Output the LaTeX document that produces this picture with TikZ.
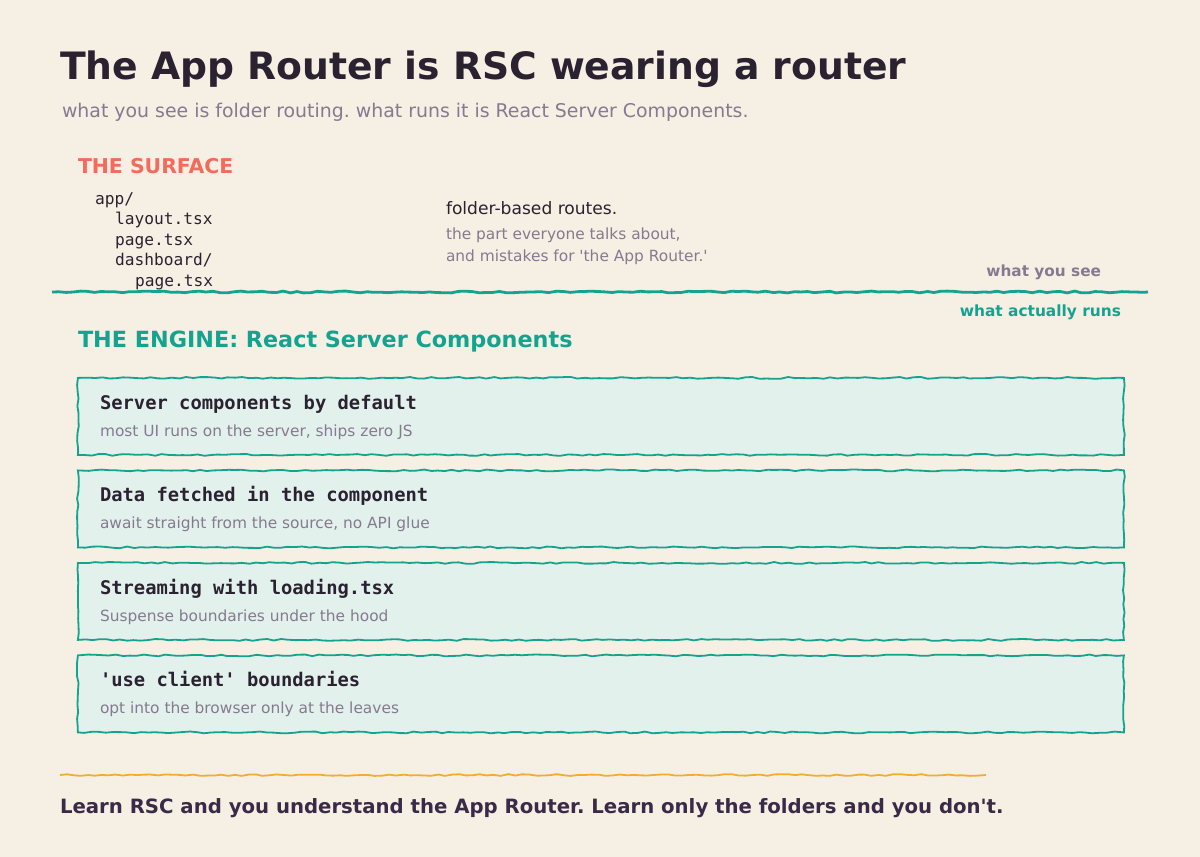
\documentclass[tikz,border=0pt]{standalone}
\usepackage{fontspec}
\setmainfont{DejaVu Sans}[Ligatures=TeXOff]
\setmonofont{DejaVu Sans Mono}
\usetikzlibrary{decorations.pathmorphing}
\definecolor{bg}{HTML}{F6EFE4}
\definecolor{ink}{HTML}{2A2230}
\definecolor{muted}{HTML}{857A8F}
\definecolor{coral}{HTML}{F26B5B}
\definecolor{teal}{HTML}{14A38E}
\definecolor{cardfill}{HTML}{E3F1EC}
\definecolor{amber}{HTML}{F5AC2E}
\definecolor{plum}{HTML}{3A2A48}
\frenchspacing
\tikzset{
  txt/.style={anchor=base west, inner sep=0pt, outer sep=0pt},
  rtxt/.style={anchor=base east, inner sep=0pt, outer sep=0pt},
  rough/.style={decorate, decoration={random steps, segment length=7pt, amplitude=0.9pt}},
  card/.style={draw=teal, line width=1.8pt, fill=cardfill, rough, minimum width=1046pt, minimum height=77pt, anchor=north west, inner sep=0pt},
  cardtitle/.style={txt, font=\ttfamily\bfseries\fontsize{18.8}{22}\selectfont, text=ink},
  cardsub/.style={txt, font=\fontsize{15.4}{18}\selectfont, text=muted},
  code/.style={txt, font=\ttfamily\fontsize{16.2}{19}\selectfont, text=ink},
}
\begin{document}
\begin{tikzpicture}[x=1pt,y=-1pt]
\pgfmathsetseed{7}
\fill[bg] (0,0) rectangle (1200,857);
\useasboundingbox (0,0) rectangle (1200,857);

\node[txt, font=\bfseries\fontsize{37.7}{44}\selectfont, text=ink] (title) at (60,79) {The App Router is RSC wearing a router};
\node[txt, font=\fontsize{18.9}{22}\selectfont, text=muted] (subtitle) at (62,117) {what you see is folder routing. what runs it is React Server Components.};

\node[txt, font=\bfseries\fontsize{20.4}{24}\selectfont, text=coral] (surface) at (78,173) {THE SURFACE};
\node[code] (c1) at (95,204) {app/};
\node[code] (c2) at (115,224) {layout.tsx};
\node[code] (c3) at (115,245) {page.tsx};
\node[code] (c4) at (115,265) {dashboard/};
\node[code] (c5) at (135,286) {page.tsx};

\node[txt, font=\fontsize{17.1}{20}\selectfont, text=ink] (fb) at (446,214) {folder-based routes.};
\node[txt, font=\fontsize{15.4}{18}\selectfont, text=muted] (fb1) at (446,239) {the part everyone talks about,};
\node[txt, font=\fontsize{15.4}{18}\selectfont, text=muted] (fb2) at (446,261) {and mistakes for 'the App Router.'};

\node[rtxt, font=\bfseries\fontsize{15.3}{18}\selectfont, text=muted] (see) at (1101,276) {what you see};
\coordinate (dl) at (52,292);
\coordinate (dr) at (1148,292);
\draw[teal, line width=2.8pt, rough] (dl) -- (dr);
\node[rtxt, font=\bfseries\fontsize{15.4}{18}\selectfont, text=teal] (runs) at (1121,316) {what actually runs};

\node[txt, font=\bfseries\fontsize{22.3}{26}\selectfont, text=teal] (engine) at (78,347) {THE ENGINE: React Server Components};

\node[card] (k1) at (77,377) {};
\node[cardtitle] at ([xshift=23pt,yshift=-32pt]k1.north west) {Server components by default};
\node[cardsub] at ([xshift=23pt,yshift=-59pt]k1.north west) {most UI runs on the server, ships zero JS};

\node[card] (k2) at (77,469.5) {};
\node[cardtitle] at ([xshift=23pt,yshift=-32pt]k2.north west) {Data fetched in the component};
\node[cardsub] at ([xshift=23pt,yshift=-59pt]k2.north west) {await straight from the source, no API glue};

\node[card] (k3) at (77,562) {};
\node[cardtitle] at ([xshift=23pt,yshift=-32pt]k3.north west) {Streaming with loading.tsx};
\node[cardsub] at ([xshift=23pt,yshift=-59pt]k3.north west) {Suspense boundaries under the hood};

\node[card] (k4) at (77,654.5) {};
\node[cardtitle] at ([xshift=23pt,yshift=-32pt]k4.north west) {'use client' boundaries};
\node[cardsub] at ([xshift=23pt,yshift=-59pt]k4.north west) {opt into the browser only at the leaves};

\coordinate (ol) at (60,775);
\coordinate (or) at (986,775);
\draw[amber, line width=1.8pt, rough] (ol) -- (or);
\node[txt, font=\bfseries\fontsize{19.7}{23}\selectfont, text=plum] (footer) at (60,813) {Learn RSC and you understand the App Router. Learn only the folders and you don't.};
\end{tikzpicture}
\end{document}
